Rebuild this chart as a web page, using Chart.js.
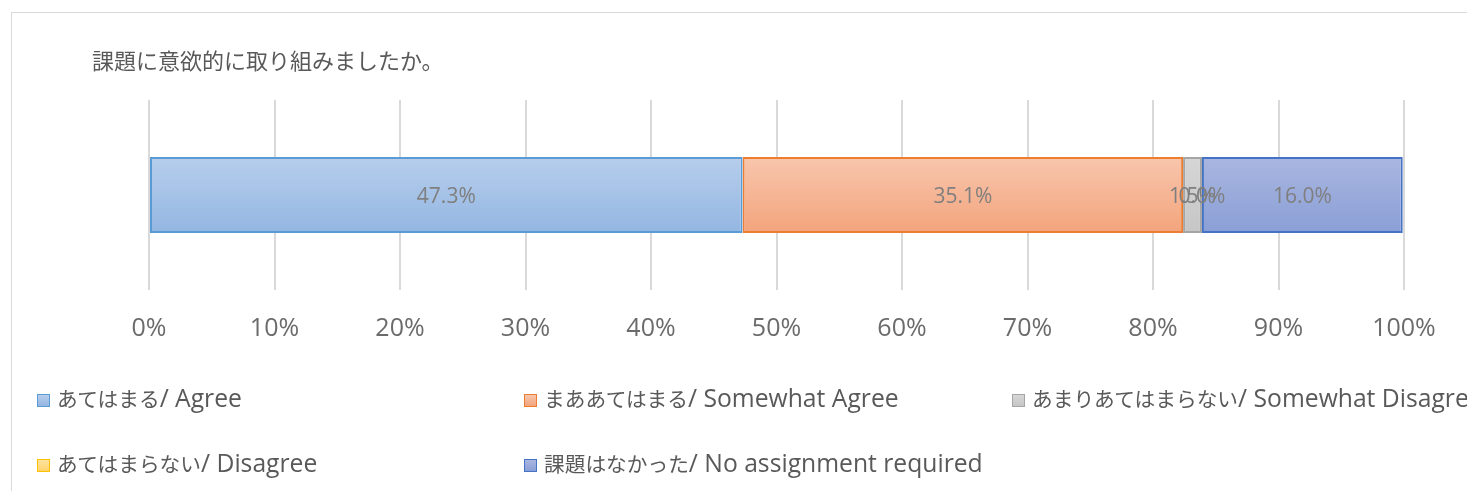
<!DOCTYPE html>
<html>
<head>
<meta charset="utf-8">
<script src="https://cdn.jsdelivr.net/npm/chart.js@4.4.1/dist/chart.umd.min.js"></script>
<style>
  html, body { margin:0; padding:0; background:#fff; width:1467px; height:491px; overflow:hidden; }
  #frame { position:absolute; left:11px; top:12px; width:1470px; height:490px; border:1px solid #D9D9D9; box-sizing:border-box; }
  #wrap { position:absolute; left:0; top:0; width:1467px; height:491px; }
  #title { position:absolute; left:92px; top:46px; font-family:"Noto Sans CJK JP","Noto Sans",sans-serif; font-size:22px; color:#595959; white-space:nowrap; line-height:26px; }
  .leg { position:absolute; font-family:"Noto Sans CJK JP",sans-serif; font-size:20.7px; color:#595959; white-space:nowrap; line-height:28px; }
  .leg .lat { font-family:"Open Sans",sans-serif; font-size:24.7px; }
  .leg i { display:inline-block; width:11px; height:11px; border:1.5px solid; margin-right:7px; vertical-align:0px; }
</style>
</head>
<body>
<div id="frame"></div>
<div id="wrap"><canvas id="c" width="1467" height="491"></canvas></div>
<div id="title"></div>
<div id="legend"></div>
<script>
const titleText = "課題に意欲的に取り組みましたか。";
const categories = [""];
const seriesNames = [
  "あてはまる/ Agree",
  "まああてはまる/ Somewhat Agree",
  "あまりあてはまらない/ Somewhat Disagree",
  "あてはまらない/ Disagree",
  "課題はなかった/ No assignment required"
];
const seriesValues = [47.3, 35.1, 1.5, 0.0, 16.0];
const tickLabels = ["0%","10%","20%","30%","40%","50%","60%","70%","80%","90%","100%"];

const fillTop    = ["#B7CEEC", "#F8C6AD", "#D6D6D6", "#FFE29E", "#A9B6E0"];
const fillBottom = ["#93B6E2", "#F3A47C", "#C6C6C6", "#FFD46E", "#8A9FD6"];
const borders    = ["#5B9BD5", "#ED7D31", "#A5A5A5", "#FFC000", "#4472C4"];

document.getElementById('title').textContent = titleText;

// legend (HTML, built from the series arrays)
const legPos = [[37,384],[524,384],[1012,384],[37,449],[524,449]];
const legEl = document.getElementById('legend');
seriesNames.forEach((n,i)=>{
  const d = document.createElement('div');
  d.className = 'leg';
  d.style.left = legPos[i][0] + 'px';
  d.style.top = legPos[i][1] + 'px';
  const m = document.createElement('i');
  m.style.borderColor = borders[i];
  m.style.background = 'linear-gradient(' + fillTop[i] + ',' + fillBottom[i] + ')';
  d.appendChild(m);
  // split into Japanese / Latin runs
  n.split(/([ -~]+)/).forEach(part=>{
    if(!part) return;
    if(/^[ -~]+$/.test(part) && /[A-Za-z]/.test(part)){
      const s = document.createElement('span');
      s.className = 'lat';
      s.textContent = part;
      d.appendChild(s);
    } else {
      d.appendChild(document.createTextNode(part));
    }
  });
  legEl.appendChild(d);
});

function grad(i){
  return (ctx)=>{
    const chart = ctx.chart;
    const a = chart.chartArea;
    if(!a) return fillTop[i];
    const h = a.bottom - a.top;
    const y0 = a.top + h*0.3, y1 = a.top + h*0.7;
    const g = chart.ctx.createLinearGradient(0, y0, 0, y1);
    g.addColorStop(0, fillTop[i]);
    g.addColorStop(1, fillBottom[i]);
    return g;
  };
}

const labelPlugin = {
  id:'barLabels',
  afterDatasetsDraw(chart){
    const ctx = chart.ctx;
    ctx.save();
    ctx.font = '21px "Open Sans", sans-serif';
    ctx.fillStyle = '#7F7F7F';
    ctx.textAlign = 'center';
    ctx.textBaseline = 'middle';
    chart.data.datasets.forEach((ds,i)=>{
      const meta = chart.getDatasetMeta(i);
      meta.data.forEach((bar,j)=>{
        const v = ds.data[j];
        const p = bar.getCenterPoint();
        ctx.fillText(v.toFixed(1) + '%', p.x, p.y + 2);
      });
    });
    ctx.restore();
  }
};

new Chart(document.getElementById('c'), {
  type:'bar',
  data:{
    labels:categories,
    datasets: seriesNames.map((n,i)=>({
      label:n,
      data:[seriesValues[i]],
      backgroundColor:grad(i),
      borderColor:borders[i],
      borderWidth:2,
      borderSkipped:false,
      barPercentage:1,
      categoryPercentage:0.4
    }))
  },
  options:{
    indexAxis:'y',
    responsive:false,
    animation:false,
    layout:{ padding:{ left:149, right:63, top:100, bottom:123 } },
    plugins:{ legend:{display:false}, tooltip:{enabled:false} },
    scales:{
      x:{
        stacked:true, min:0, max:100,
        border:{display:false},
        grid:{ color:'#D9D9D9', lineWidth:2, drawTicks:false },
        ticks:{ stepSize:10, padding:24, color:'#6B6B6B',
          font:{ family:'"Open Sans", sans-serif', size:25 },
          callback:(v,i)=>tickLabels[i] }
      },
      y:{ stacked:true, display:false }
    }
  },
  plugins:[labelPlugin]
});
</script>
</body>
</html>
